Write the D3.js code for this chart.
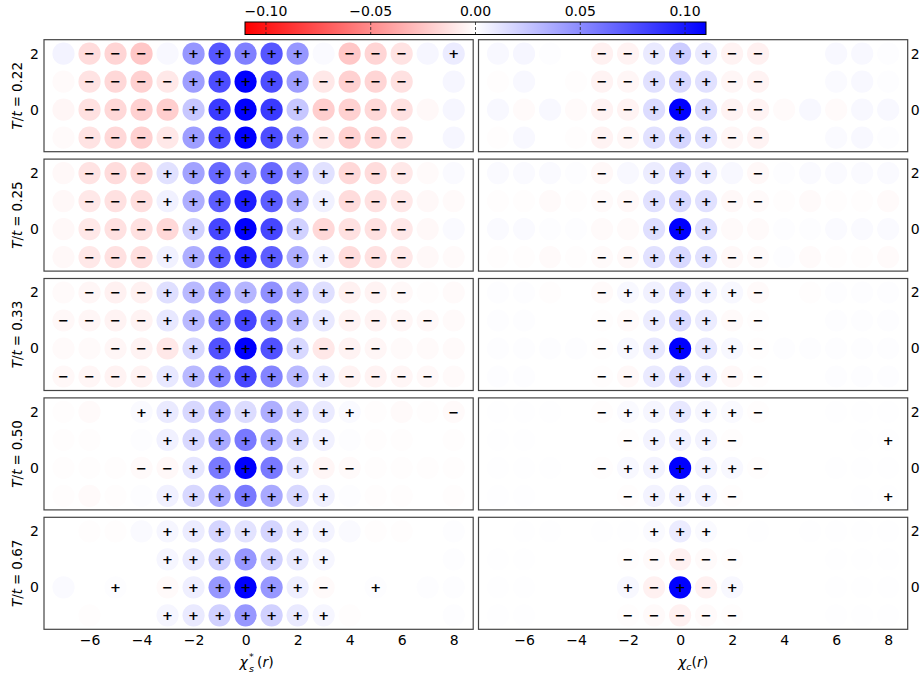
<!DOCTYPE html>
<html>
<head>
<meta charset="utf-8">
<script src="https://cdn.jsdelivr.net/npm/d3@7"></script>
<style>
  body { margin: 0; background: #fff; }
  svg { display: block; font-family: "DejaVu Sans", sans-serif; }
</style>
</head>
<body>
<svg id="chart" width="921" height="682"></svg>
<script>
// Lattice coordinates
const xSites = d3.range(-7, 9);          // -7 … 8
const ySites = [2, 1, 0, -1];
const temperatures = ["0.22", "0.25", "0.33", "0.50", "0.67"];
const xTicks = [-6, -4, -2, 0, 2, 4, 6, 8];
const yTicks = [0, 2];
const cbTicks = [-0.10, -0.05, 0.00, 0.05, 0.10];

// Spin correlations χ_s*(r), rows y = 2, 1, 0, -1
const spin022 = [
  [0.005,-0.015,-0.018,-0.024,0.003,0.045,0.073,0.055,0.073,0.045,0.002,-0.024,-0.018,-0.012,0.004,0.008],
  [-0.002,-0.012,-0.017,-0.020,-0.010,0.042,0.077,0.115,0.077,0.042,-0.010,-0.020,-0.018,-0.013,0,0.004],
  [-0.004,-0.013,-0.017,-0.020,-0.021,0.024,0.085,0.120,0.085,0.024,-0.021,-0.020,-0.017,-0.013,-0.003,0.004],
  [-0.002,-0.012,-0.017,-0.020,-0.010,0.042,0.077,0.112,0.077,0.042,-0.010,-0.020,-0.017,-0.013,0,0.004]
];
const spin025 = [
  [-0.003,-0.012,-0.015,-0.017,0.013,0.040,0.065,0.045,0.065,0.040,0.013,-0.017,-0.015,-0.010,-0.002,0.002],
  [-0.003,-0.010,-0.013,-0.014,0.006,0.035,0.070,0.097,0.070,0.035,0.006,-0.015,-0.013,-0.010,-0.003,-0.002],
  [-0.003,-0.010,-0.013,-0.013,-0.017,0.020,0.080,0.115,0.080,0.020,-0.017,-0.013,-0.013,-0.010,-0.003,0.002],
  [-0.003,-0.010,-0.013,-0.014,0.006,0.035,0.070,0.097,0.070,0.035,0.006,-0.015,-0.013,-0.010,-0.003,-0.002]
];
const spin033 = [
  [-0.002,-0.004,-0.006,-0.006,0.014,0.030,0.048,0.032,0.048,0.030,0.014,-0.006,-0.005,-0.003,-0.001,-0.002],
  [-0.003,-0.004,-0.005,-0.005,0.010,0.030,0.053,0.080,0.053,0.030,0.010,-0.005,-0.005,-0.004,-0.003,-0.002],
  [-0.002,-0.002,-0.004,-0.005,-0.010,0.017,0.075,0.112,0.075,0.017,-0.010,-0.005,-0.004,-0.002,-0.002,-0.002],
  [-0.003,-0.004,-0.005,-0.005,0.010,0.030,0.053,0.080,0.053,0.030,0.010,-0.005,-0.005,-0.004,-0.003,-0.002]
];
const spin050 = [
  [-0.001,-0.002,0,0.002,0.009,0.017,0.035,0.015,0.035,0.017,0.009,0.002,-0.001,-0.002,-0.001,-0.002],
  [-0.001,-0.001,0,0.001,0.006,0.017,0.037,0.058,0.037,0.017,0.006,0.001,-0.001,-0.001,0,-0.001],
  [-0.001,-0.001,-0.001,-0.002,-0.003,0.011,0.058,0.115,0.058,0.011,-0.004,-0.002,-0.001,-0.001,-0.001,-0.001],
  [-0.001,-0.002,-0.001,0.001,0.006,0.017,0.037,0.058,0.037,0.017,0.006,0.001,-0.001,-0.001,0,-0.001]
];
const spin067 = [
  [0,-0.001,-0.001,0.002,0.004,0.008,0.018,0.012,0.018,0.008,0.005,0.002,-0.001,-0.001,0,0.001],
  [0,0,0,0,0.004,0.009,0.020,0.045,0.020,0.009,0.004,0,0,0,0,0.001],
  [0.002,0,0.001,0,-0.002,0.007,0.045,0.115,0.045,0.007,-0.002,0,0.001,0,0.001,0.001],
  [0,-0.001,0,0,0.004,0.009,0.020,0.045,0.020,0.009,0.004,-0.001,0,0,0,0.001]
];

// Charge correlations χ_c(r), rows y = 2, 1, 0, -1
const charge022 = [
  [0.003,0.004,0.001,0,-0.006,-0.005,0.009,0.022,0.009,-0.005,-0.006,0,0,0.003,0.003,0.001],
  [-0.001,0.003,0,-0.001,-0.005,-0.004,0.013,0.017,0.013,-0.004,-0.005,0,0,0.002,0.003,0.001],
  [0.003,-0.002,0.003,-0.002,-0.005,-0.005,0.015,0.115,0.015,-0.005,-0.005,-0.002,0.003,-0.002,0.003,0.003],
  [-0.001,0.003,0,-0.001,-0.005,-0.004,0.013,0.018,0.013,-0.004,-0.005,0,0,0.002,0.003,0.001]
];
const charge025 = [
  [0.002,0.002,0.002,0.001,-0.003,0.003,0.008,0.020,0.008,0.003,-0.003,0.001,0.002,0.002,0.002,0.002],
  [-0.001,-0.001,-0.002,-0.001,-0.002,-0.003,0.013,0.017,0.013,-0.003,-0.002,-0.001,-0.002,-0.001,-0.001,-0.002],
  [0.002,0.002,0.001,0.001,-0.002,-0.002,0.014,0.115,0.014,-0.002,-0.002,0.001,0.001,0.002,0.002,0.002],
  [-0.001,-0.001,-0.002,-0.001,-0.002,-0.003,0.013,0.017,0.013,-0.003,-0.002,0.001,-0.002,-0.001,-0.001,-0.002]
];
const charge033 = [
  [0.001,0.001,-0.001,0,-0.002,0.003,0.006,0.017,0.006,0.003,-0.002,0,-0.001,0.001,0.001,0.001],
  [0.001,0.001,0,0,-0.001,-0.002,0.008,0.016,0.008,-0.002,-0.001,0,0,0.001,0.001,0.001],
  [0.001,0.001,0.001,0.001,-0.001,0.003,0.010,0.115,0.010,0.003,-0.001,0.001,0.001,0.001,0.001,0.001],
  [0.001,0.001,0,0,-0.001,-0.003,0.009,0.016,0.009,-0.003,-0.001,0,0,0.001,0.001,0.001]
];
const charge050 = [
  [0.0005,0.0005,0.0005,0,-0.001,0.002,0.004,0.010,0.004,0.002,-0.001,0,0,0.0005,0.0005,0.0005],
  [0.0005,0.0005,0,0,0,-0.001,0.005,0.006,0.005,-0.001,0,0,0,0,0.0005,0.0005],
  [0.0005,0.0005,0.0005,0,-0.001,0.003,0.005,0.115,0.005,0.003,-0.001,0,0,0.0005,0.0005,0.0005],
  [0.0005,0.0005,0,0,0,-0.001,0.005,0.006,0.005,-0.001,0,0,0,0,0.0005,0.0005]
];
const charge067 = [
  [0,0.0005,0.0005,0,0.0005,0.0005,0.002,0.008,0.002,0,0.0005,0,0.0005,0.0005,0.0005,0.0005],
  [0.0005,0.0005,0,0,0,-0.001,-0.002,-0.006,-0.002,-0.001,0,0,0,0.0005,0.0005,0.0005],
  [0.0005,0.0005,0,0,0,0.003,-0.006,0.115,-0.006,0.003,0,0,0,0.0005,0.0005,0.0005],
  [0.0005,0.0005,0,0,0,-0.001,-0.002,-0.006,-0.002,-0.001,0,0,0,0.0005,0.0005,0.0005]
];

// Significance markers: "+" / "-" drawn on the site, "." for none
const spinMarks = [
  [".---.+++++.---.+", ".----+++++----..", ".----+++++----..", ".----+++++----.."],
  [".---+++++++---..", ".---+++++++---..", ".----+++++----..", ".---+++++++---.."],
  [".---+++++++---..", "----+++++++----.", "..---+++++---...", "----+++++++----."],
  ["...+++++++++...-", "....+++++++.....", "...--+++++--....", "....+++++++....."],
  ["....+++++++.....", "....+++++++.....", "..+.-+++++-.+...", "....+++++++....."]
];
const chargeMarks = [
  ["....--+++--.....", "....--+++--.....", "....--+++--.....", "....--+++--....."],
  ["....-.+++.-.....", "....--+++--.....", "......+++.......", "....--+++--....."],
  ["....-+++++-.....", "....--+++--.....", "....-+++++-.....", "....--+++--....."],
  ["....-+++++-.....", ".....-+++-.....+", "....-+++++-.....", ".....-+++-.....+"],
  ["......+++.......", ".....-----......", ".....+-+-+......", ".....-----......"]
];

const spinData = [spin022, spin025, spin033, spin050, spin067];
const chargeData = [charge022, charge025, charge033, charge050, charge067];

// ---------- layout ----------
const svg = d3.select("#chart");
const colLeft = [44, 478.5];
const panelW = 429.2, panelH = 112;
const rowTop = i => 39.7 + i * 119.4;

const x = d3.scaleLinear().domain([-7.75, 8.75]).range([0, panelW]);
const y = d3.scaleLinear().domain([2.5, -1.5]).range([0, panelH]);
const color = d3.scaleLinear().domain([-0.11, 0, 0.11])
  .range(["#ff0000", "#ffffff", "#0000ff"]).clamp(true);
const radius = 11.1;

function drawPanel(g, grid, marks) {
  const cells = [];
  grid.forEach((row, ri) => row.forEach((v, ci) => {
    cells.push({ x: xSites[ci], y: ySites[ri], v, m: marks[ri][ci] });
  }));
  g.selectAll("circle.site").data(cells).join("circle")
    .attr("class", "site")
    .attr("cx", d => x(d.x)).attr("cy", d => y(d.y))
    .attr("r", radius).attr("fill", d => color(d.v));
  g.selectAll("text.mark").data(cells.filter(d => d.m !== ".")).join("text")
    .attr("class", "mark")
    .attr("x", d => x(d.x)).attr("y", d => y(d.y))
    .attr("dy", "0.36em").attr("text-anchor", "middle")
    .attr("font-size", 13).attr("font-weight", "bold").attr("fill", "#000")
    .text(d => d.m === "+" ? "+" : "\u2212");
  g.append("rect").attr("width", panelW).attr("height", panelH)
    .attr("fill", "none").attr("stroke", "#444").attr("stroke-width", 1.2);
}

const fmtTick = d => d3.format("d")(d).replace("-", "\u2212");

temperatures.forEach((t, i) => {
  [spinData, chargeData].forEach((data, c) => {
    const g = svg.append("g").attr("transform", `translate(${colLeft[c]},${rowTop(i)})`);
    drawPanel(g, data[i], c === 0 ? spinMarks[i] : chargeMarks[i]);

    const ax = c === 0
      ? d3.axisLeft(y).tickValues(yTicks).tickSize(0).tickPadding(5)
      : d3.axisRight(y).tickValues(yTicks).tickSize(0).tickPadding(3);
    const ga = g.append("g").attr("transform", c === 0 ? "translate(0,0)" : `translate(${panelW},0)`)
      .call(ax.tickFormat(fmtTick));
    ga.select(".domain").remove();
    ga.selectAll("text").attr("font-size", 14).attr("font-family", "DejaVu Sans").attr("fill", "#000");

    if (i === temperatures.length - 1) {
      const gx = g.append("g").attr("transform", `translate(0,${panelH})`)
        .call(d3.axisBottom(x).tickValues(xTicks).tickSize(0).tickPadding(6).tickFormat(fmtTick));
      gx.select(".domain").remove();
      gx.selectAll("text").attr("font-size", 14).attr("font-family", "DejaVu Sans").attr("fill", "#000");
    }
  });

  // row label T/t = …
  const cy = rowTop(i) + panelH / 2;
  const lab = svg.append("text")
    .attr("transform", `translate(22,${cy}) rotate(-90)`)
    .attr("text-anchor", "middle").attr("font-size", 13.5);
  lab.append("tspan").attr("font-style", "italic").text("T");
  lab.append("tspan").text("/");
  lab.append("tspan").attr("font-style", "italic").text("t");
  lab.append("tspan").attr("dx", 4).text("=");
  lab.append("tspan").attr("dx", 4).text(t);
});

// x-axis titles
const bottomY = rowTop(4) + panelH + 38;
const sx = colLeft[0] + panelW / 2 - 19;
const xTitle = svg.append("g").attr("class", "xtitle-spin");
xTitle.append("text").attr("x", sx).attr("y", bottomY)
  .attr("font-size", 14).attr("font-style", "italic").text("\u03c7");
xTitle.append("text").attr("x", sx + 9.5).attr("y", bottomY - 7)
  .attr("font-size", 9.5).text("*");
xTitle.append("text").attr("x", sx + 9.5).attr("y", bottomY + 5)
  .attr("font-size", 9.5).attr("font-style", "italic").text("s");
const sr = xTitle.append("text").attr("x", sx + 17.5).attr("y", bottomY).attr("font-size", 14);
sr.append("tspan").text("(");
sr.append("tspan").attr("font-style", "italic").text("r");
sr.append("tspan").text(")");

const xc = svg.append("text").attr("x", colLeft[1] + panelW / 2).attr("y", bottomY)
  .attr("text-anchor", "middle").attr("font-size", 14);
xc.append("tspan").attr("font-style", "italic").text("\u03c7");
xc.append("tspan").attr("font-size", 9.5).attr("font-style", "italic").attr("dy", 3).text("c");
xc.append("tspan").attr("dy", -3).text("(");
xc.append("tspan").attr("font-style", "italic").text("r");
xc.append("tspan").text(")");

// ---------- colorbar ----------
const cbX = 245, cbY = 22, cbW = 461, cbH = 12.5;
const cbScale = d3.scaleLinear().domain([-0.11, 0.11]).range([0, cbW]);
const grad = svg.append("defs").append("linearGradient").attr("id", "cbgrad")
  .attr("x1", "0%").attr("x2", "100%").attr("y1", "0%").attr("y2", "0%");
[-0.11, 0, 0.11].forEach(v => {
  grad.append("stop").attr("offset", (cbScale(v) / cbW * 100) + "%").attr("stop-color", color(v));
});
const cb = svg.append("g").attr("transform", `translate(${cbX},${cbY})`);
cb.append("rect").attr("width", cbW).attr("height", cbH).attr("fill", "url(#cbgrad)");
cb.selectAll("line.tick").data(cbTicks).join("line")
  .attr("x1", d => cbScale(d)).attr("x2", d => cbScale(d))
  .attr("y1", 0).attr("y2", cbH)
  .attr("stroke", "#222").attr("stroke-width", 0.8).attr("stroke-dasharray", "3,2");
cb.append("rect").attr("width", cbW).attr("height", cbH)
  .attr("fill", "none").attr("stroke", "#000").attr("stroke-width", 1);
cb.selectAll("text.cbl").data(cbTicks).join("text")
  .attr("class", "cbl")
  .attr("x", d => cbScale(d)).attr("y", -6)
  .attr("text-anchor", "middle").attr("font-size", 14)
  .text(d => d3.format(".2f")(d).replace("-", "\u2212"));
</script>
</body>
</html>
